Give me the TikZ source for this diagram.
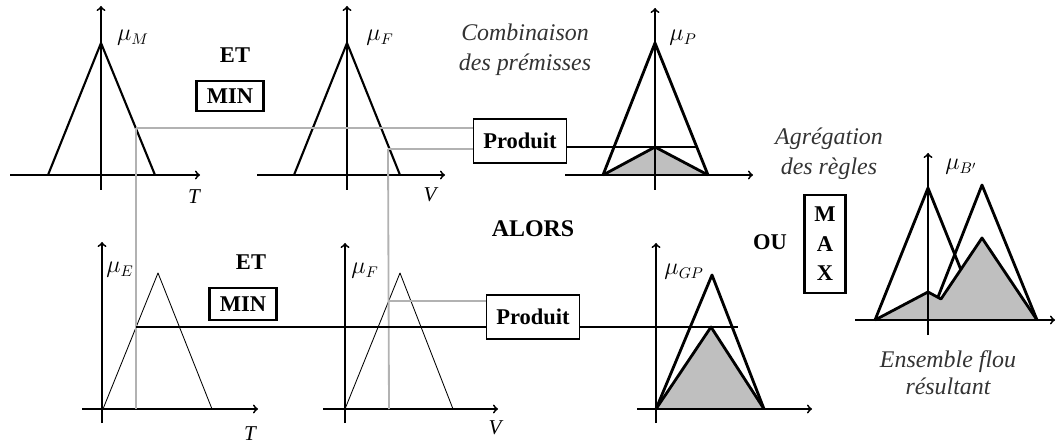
\documentclass[tikz,border=0pt]{standalone}
\usepackage{fontspec}
\setmainfont{Liberation Serif}
\usetikzlibrary{calc,positioning,arrows}
\begin{document}
\begin{tikzpicture}[x=0.025cm,y=-0.025cm]
\tikzstyle{axe}=[->, line width=1.3pt]
\tikzstyle{tri}=[line width=1.5pt, line join=round]
\tikzstyle{gros}=[line width=2pt, line join=round]
\tikzstyle{fin}=[line width=0.6pt, line join=round]
\tikzstyle{guide}=[line width=1.3pt, black!30]
\tikzstyle{trait}=[line width=1pt]
\tikzstyle{ombre}=[fill=black!25]
\tikzstyle{op}=[draw, line width=1.8pt, inner sep=0pt, font=\fontsize{16}{21}\selectfont\bfseries]
\tikzstyle{prod}=[draw, line width=0.9pt, minimum width=2.33cm, minimum height=1.1cm, font=\fontsize{16}{18}\selectfont\bfseries]
\tikzstyle{mot}=[font=\fontsize{16}{18}\selectfont\bfseries]
\tikzstyle{com}=[font=\fontsize{17}{21.5}\selectfont\itshape, text=black!80, align=center]
\tikzstyle{mu}=[font=\fontsize{16}{18}\selectfont]
\tikzstyle{var}=[font=\fontsize{15}{18}\selectfont\itshape]
\useasboundingbox (0,0) rectangle (1058,445);

% zones grisees
\fill[ombre] (603,175) -- (655,147) -- (708,175) -- cycle;
\fill[ombre] (656,409) -- (711,327) -- (764,409) -- cycle;
\fill[ombre] (875,320) -- (928,292) -- (941,299) -- (982,238) -- (1037,320) -- cycle;

% axes
\foreach \ox/\oy/\xa/\xb/\yt/\yb in {101/175/10/200/6/190, 347/175/257/445/6/190, 655/175/565/753/8/190, 102/409/82/258/242/423, 345/409/323/498/243/423, 656/409/637/812/243/423, 928/320/855/1055/153/335}{
  \draw[axe] (\xa,\oy) -- (\xb,\oy);
  \draw[axe] (\ox,\yb) -- (\ox,\yt);
}

% fonctions d'appartenance
\draw[tri] (48,175) -- (101,43) -- (155,175);
\draw[tri] (294,175) -- (347,43) -- (400,175);
\draw[fin] (103,409) -- (158,273) -- (212,409);
\draw[fin] (345,409) -- (400,273) -- (453,409);
\draw[gros] (603,175) -- (655,43) -- (708,175);
\draw[gros] (603,175) -- (655,147) -- (708,175);
\draw[gros] (656,409) -- (712,275) -- (764,409);
\draw[gros] (656,409) -- (711,327) -- (764,409);
\draw[gros] (875,320) -- (928,292) -- (941,299) -- (982,238) -- (1037,320);
\draw[gros] (875,320) -- (928,188) -- (961,270);
\draw[gros] (938,297) -- (982,185) -- (1037,320);

% etiquettes
\node[mu] (muM) at (133,38) {$\mu_{M}$};
\node[mu] (muF) at (380,38) {$\mu_{F}$};
\node[mu] (muP) at (683,38) {$\mu_{P}$};
\node[mu] (muE) at (120,270) {$\mu_{E}$};
\node[mu] (muF2) at (365,271) {$\mu_{F}$};
\node[mu] (muGP) at (684,272) {$\mu_{GP}$};
\node[mu] (muB) at (961,167) {$\mu_{B'}$};
\node[var] (T1) at (194,197) {T};
\node[var] (V1) at (430,195) {V};
\node[var] (T2) at (250,434) {T};
\node[var] (V2) at (495,428) {V};

\node[mot] (et1) at (235,55) {ET};
\node[mot] (et2) at (251,262) {ET};
\node[op, minimum width=1.675cm, minimum height=0.75cm] (min1) at (230,96) {MIN};
\node[op, minimum width=1.675cm, minimum height=0.8cm] (min2) at (243,304) {MIN};
\node[mot, font=\fontsize{17}{20}\selectfont\bfseries] (alors) at (533,229) {ALORS};
\node[mot] (ou) at (770,242) {OU};
\node[op, minimum width=1.025cm, minimum height=2.45cm, align=center] (max) at (825,244) {M\\A\\X};
\node[com] (comb) at (525,50) {Combinaison\\des prémisses};
\node[com] (agr) at (829,154) {Agrégation\\des règles};
\node[com, font=\fontsize{17}{19}\selectfont\itshape] (ens) at (948,373) {Ensemble flou\\résultant};

\node[prod] (p1) at (520,141) {Produit};
\node[prod] (p2) at (533,317) {Produit};

% lignes de lecture
\coordinate (a1) at (136,128);
\coordinate (a2) at (136,327);
\coordinate (a0) at (136,409);
\coordinate (b1) at (388,149);
\coordinate (b2) at (389,301);
\coordinate (b0) at (389,409);
\coordinate (s1) at (697,147);
\coordinate (s2) at (738,327);
\draw[guide] (a1) -- (a0);
\draw[guide] (b1) -- (b0);
\draw[guide] (a1) -- (a1 -| p1.west);
\draw[guide] (b1) -- (b1 -| p1.west);
\draw[guide] (b2) -- (b2 -| p2.west);
\draw[trait] (a2) -- (a2 -| p2.west);
\draw[trait] (s1 -| p1.east) -- (s1);
\draw[trait] (s2 -| p2.east) -- (s2);
\end{tikzpicture}
\end{document}
